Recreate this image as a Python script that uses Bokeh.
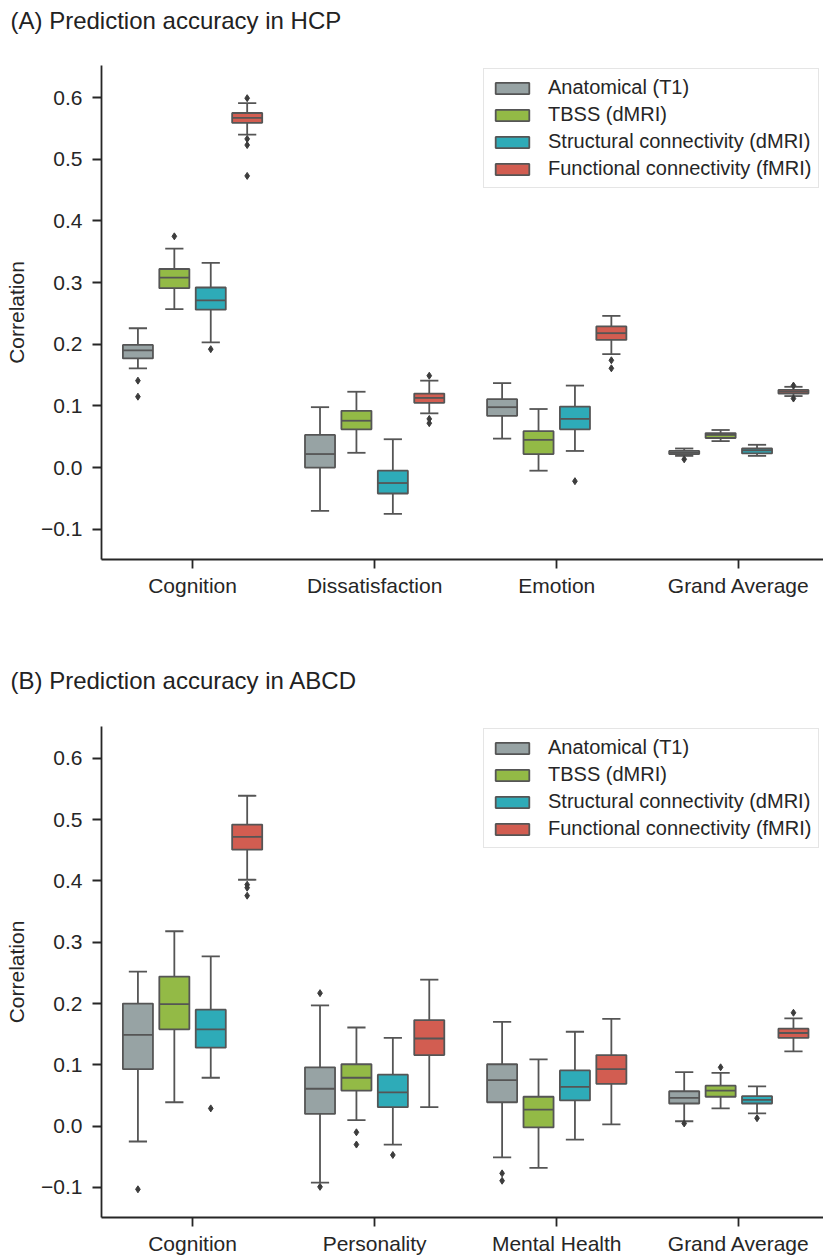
from bokeh.plotting import figure
from bokeh.models import (Range1d, FixedTicker, Legend, LegendItem, Title,
                          CustomJSTickFormatter)
from bokeh.layouts import column
from bokeh.embed import file_html
from bokeh.resources import INLINE

# ---------------- data ----------------
modalities = ["Anatomical (T1)", "TBSS (dMRI)",
              "Structural connectivity (dMRI)", "Functional connectivity (fMRI)"]
colors = ["#97a3a4", "#93ba46", "#2eabb8", "#d25d51"]
y_ticks = [-0.1, 0.0, 0.1, 0.2, 0.3, 0.4, 0.5, 0.6]

# (A) HCP  -- rows: modality, columns: category
hcp_title = "(A) Prediction accuracy in HCP"
hcp_categories = ["Cognition", "Dissatisfaction", "Emotion", "Grand Average"]
hcp_whisker_hi = [[0.226, 0.098, 0.137, 0.031],
                  [0.355, 0.123, 0.095, 0.061],
                  [0.332, 0.046, 0.133, 0.037],
                  [0.591, 0.141, 0.246, 0.131]]
hcp_q3 = [[0.199, 0.053, 0.111, 0.027],
          [0.322, 0.092, 0.059, 0.056],
          [0.292, -0.005, 0.099, 0.031],
          [0.575, 0.120, 0.229, 0.126]]
hcp_median = [[0.190, 0.022, 0.098, 0.024],
              [0.308, 0.076, 0.045, 0.053],
              [0.271, -0.025, 0.079, 0.028],
              [0.567, 0.113, 0.218, 0.123]]
hcp_q1 = [[0.177, 0.000, 0.084, 0.022],
          [0.291, 0.062, 0.022, 0.048],
          [0.256, -0.042, 0.062, 0.023],
          [0.559, 0.105, 0.207, 0.120]]
hcp_whisker_lo = [[0.161, -0.070, 0.047, 0.019],
                  [0.257, 0.024, -0.005, 0.043],
                  [0.203, -0.075, 0.027, 0.019],
                  [0.540, 0.088, 0.184, 0.116]]
hcp_outliers = [[[0.141, 0.115], [], [], [0.0135]],
                [[0.375], [], [], []],
                [[0.192], [], [-0.022], []],
                [[0.599, 0.533, 0.523, 0.473], [0.149, 0.079, 0.072],
                 [0.174, 0.161], [0.133, 0.112]]]

# (B) ABCD
abcd_title = "(B) Prediction accuracy in ABCD"
abcd_categories = ["Cognition", "Personality", "Mental Health", "Grand Average"]
abcd_whisker_hi = [[0.252, 0.197, 0.170, 0.088],
                   [0.318, 0.161, 0.109, 0.087],
                   [0.277, 0.144, 0.154, 0.065],
                   [0.539, 0.239, 0.175, 0.176]]
abcd_q3 = [[0.200, 0.096, 0.101, 0.057],
           [0.244, 0.101, 0.048, 0.066],
           [0.190, 0.084, 0.091, 0.049],
           [0.492, 0.173, 0.116, 0.159]]
abcd_median = [[0.149, 0.061, 0.075, 0.046],
               [0.199, 0.079, 0.027, 0.058],
               [0.158, 0.055, 0.064, 0.043],
               [0.472, 0.143, 0.093, 0.152]]
abcd_q1 = [[0.093, 0.020, 0.039, 0.037],
           [0.158, 0.058, -0.002, 0.048],
           [0.128, 0.031, 0.042, 0.037],
           [0.451, 0.116, 0.069, 0.144]]
abcd_whisker_lo = [[-0.025, -0.092, -0.051, 0.008],
                   [0.039, 0.010, -0.068, 0.029],
                   [0.079, -0.030, -0.022, 0.021],
                   [0.402, 0.031, 0.003, 0.122]]
abcd_outliers = [[[-0.103], [0.217, -0.099], [-0.077, -0.089], [0.0045]],
                 [[], [-0.010, -0.030], [], [0.096]],
                 [[0.029], [-0.047], [], [0.013]],
                 [[0.394, 0.389, 0.376], [], [], [0.185]]]

# ---------------- styling ----------------
FONT = "Liberation Sans, Arial, sans-serif"
EDGE = "#555555"
offsets = [-0.3, -0.1, 0.1, 0.3]
box_w = 0.165
cap_w = 0.10


def title_strip(text, height, border_top):
    # thin strip that only carries the panel title
    t = figure(width=823, height=height, output_backend="svg",
               toolbar_location=None, x_axis_type=None, y_axis_type=None,
               x_range=Range1d(0, 1), y_range=Range1d(0, 1),
               min_border_left=101, min_border_right=0,
               min_border_top=border_top, min_border_bottom=0)
    t.outline_line_color = None
    t.grid.visible = False
    t.title = Title(text=text, align="left", offset=-91, standoff=2,
                    text_font=FONT, text_font_size="24px",
                    text_font_style="normal", text_color="#222222")
    return t


def make_panel(cats, whi, q3, med, q1, wlo, outl, height,
               border_top, border_bottom, legend_y):
    p = figure(width=823, height=height, output_backend="svg",
               toolbar_location=None, x_range=Range1d(-0.5, 3.465),
               y_range=Range1d(-0.149, 0.652),
               min_border_left=101, min_border_right=0,
               min_border_top=border_top, min_border_bottom=border_bottom)
    p.outline_line_color = None
    p.grid.visible = False
    p.background_fill_color = "white"
    p.border_fill_color = "white"

    items = []
    for m in range(4):
        n = len(cats)
        xs = [i + offsets[m] for i in range(n)]
        # whiskers
        p.segment(x0=xs, y0=q3[m], x1=xs, y1=whi[m], line_color=EDGE, line_width=1.8)
        p.segment(x0=xs, y0=q1[m], x1=xs, y1=wlo[m], line_color=EDGE, line_width=1.8)
        # caps
        p.segment(x0=[x - cap_w / 2 for x in xs], y0=whi[m],
                  x1=[x + cap_w / 2 for x in xs], y1=whi[m], line_color=EDGE, line_width=1.8)
        p.segment(x0=[x - cap_w / 2 for x in xs], y0=wlo[m],
                  x1=[x + cap_w / 2 for x in xs], y1=wlo[m], line_color=EDGE, line_width=1.8)
        # boxes
        r = p.quad(left=[x - box_w / 2 for x in xs], right=[x + box_w / 2 for x in xs],
                   bottom=q1[m], top=q3[m], fill_color=colors[m],
                   line_color=EDGE, line_width=1.8)
        # medians
        p.segment(x0=[x - box_w / 2 for x in xs], y0=med[m],
                  x1=[x + box_w / 2 for x in xs], y1=med[m], line_color=EDGE, line_width=1.8)
        # outliers
        ox, oy = [], []
        for i in range(n):
            for v in outl[m][i]:
                ox.append(xs[i])
                oy.append(v)
        if ox:
            p.scatter(ox, oy, marker="diamond", size=7, fill_color="#3c3c3c",
                      line_color="#3c3c3c")
        items.append(LegendItem(label=modalities[m], renderers=[r]))

    legend = Legend(items=items, location=(382, legend_y))
    legend.label_text_font = FONT
    legend.label_text_font_size = "20px"
    legend.label_text_color = "#262626"
    legend.glyph_width = 42
    legend.glyph_height = 14
    legend.label_standoff = 15
    legend.label_height = 21
    legend.spacing = 4
    legend.padding = 7
    legend.margin = 0
    legend.border_line_color = "#cccccc"
    legend.border_line_width = 1
    legend.background_fill_alpha = 0.85
    p.add_layout(legend, "center")

    # axes
    xa = p.xaxis[0]
    xa.ticker = FixedTicker(ticks=list(range(len(cats))))
    xa.major_label_overrides = {i: c for i, c in enumerate(cats)}
    ya = p.yaxis[0]
    ya.ticker = FixedTicker(ticks=y_ticks)
    ya.formatter = CustomJSTickFormatter(
        code="return tick < 0 ? '\u2212' + Math.abs(tick).toFixed(1) : tick.toFixed(1);")
    ya.axis_label = "Correlation"
    ya.axis_label_text_font = FONT
    ya.axis_label_text_font_size = "21px"
    ya.axis_label_text_font_style = "normal"
    ya.axis_label_text_color = "#262626"
    ya.axis_label_standoff = 10
    ya.major_label_standoff = 10
    xa.major_label_standoff = 5
    for ax in (xa, ya):
        ax.axis_line_color = "#262626"
        ax.axis_line_width = 1.8
        ax.major_tick_line_color = "#262626"
        ax.major_tick_line_width = 1.8
        ax.major_tick_out = 9
        ax.major_tick_in = 0
        ax.minor_tick_line_color = None
        ax.major_label_text_font = FONT
        ax.major_label_text_font_size = "21px"
        ax.major_label_text_color = "#262626"
    return p


tA = title_strip(hcp_title, 40, 34)
p1 = make_panel(hcp_categories, hcp_whisker_hi, hcp_q3, hcp_median, hcp_q1,
                hcp_whisker_lo, hcp_outliers, 590, 25, 71, 371)
tB = title_strip(abcd_title, 70, 64)
p2 = make_panel(abcd_categories, abcd_whisker_hi, abcd_q3, abcd_median, abcd_q1,
                abcd_whisker_lo, abcd_outliers, 558, 26, 41, 369)

layout = column(tA, p1, tB, p2, spacing=0)
open("out.html", "w").write(file_html(layout, INLINE))
